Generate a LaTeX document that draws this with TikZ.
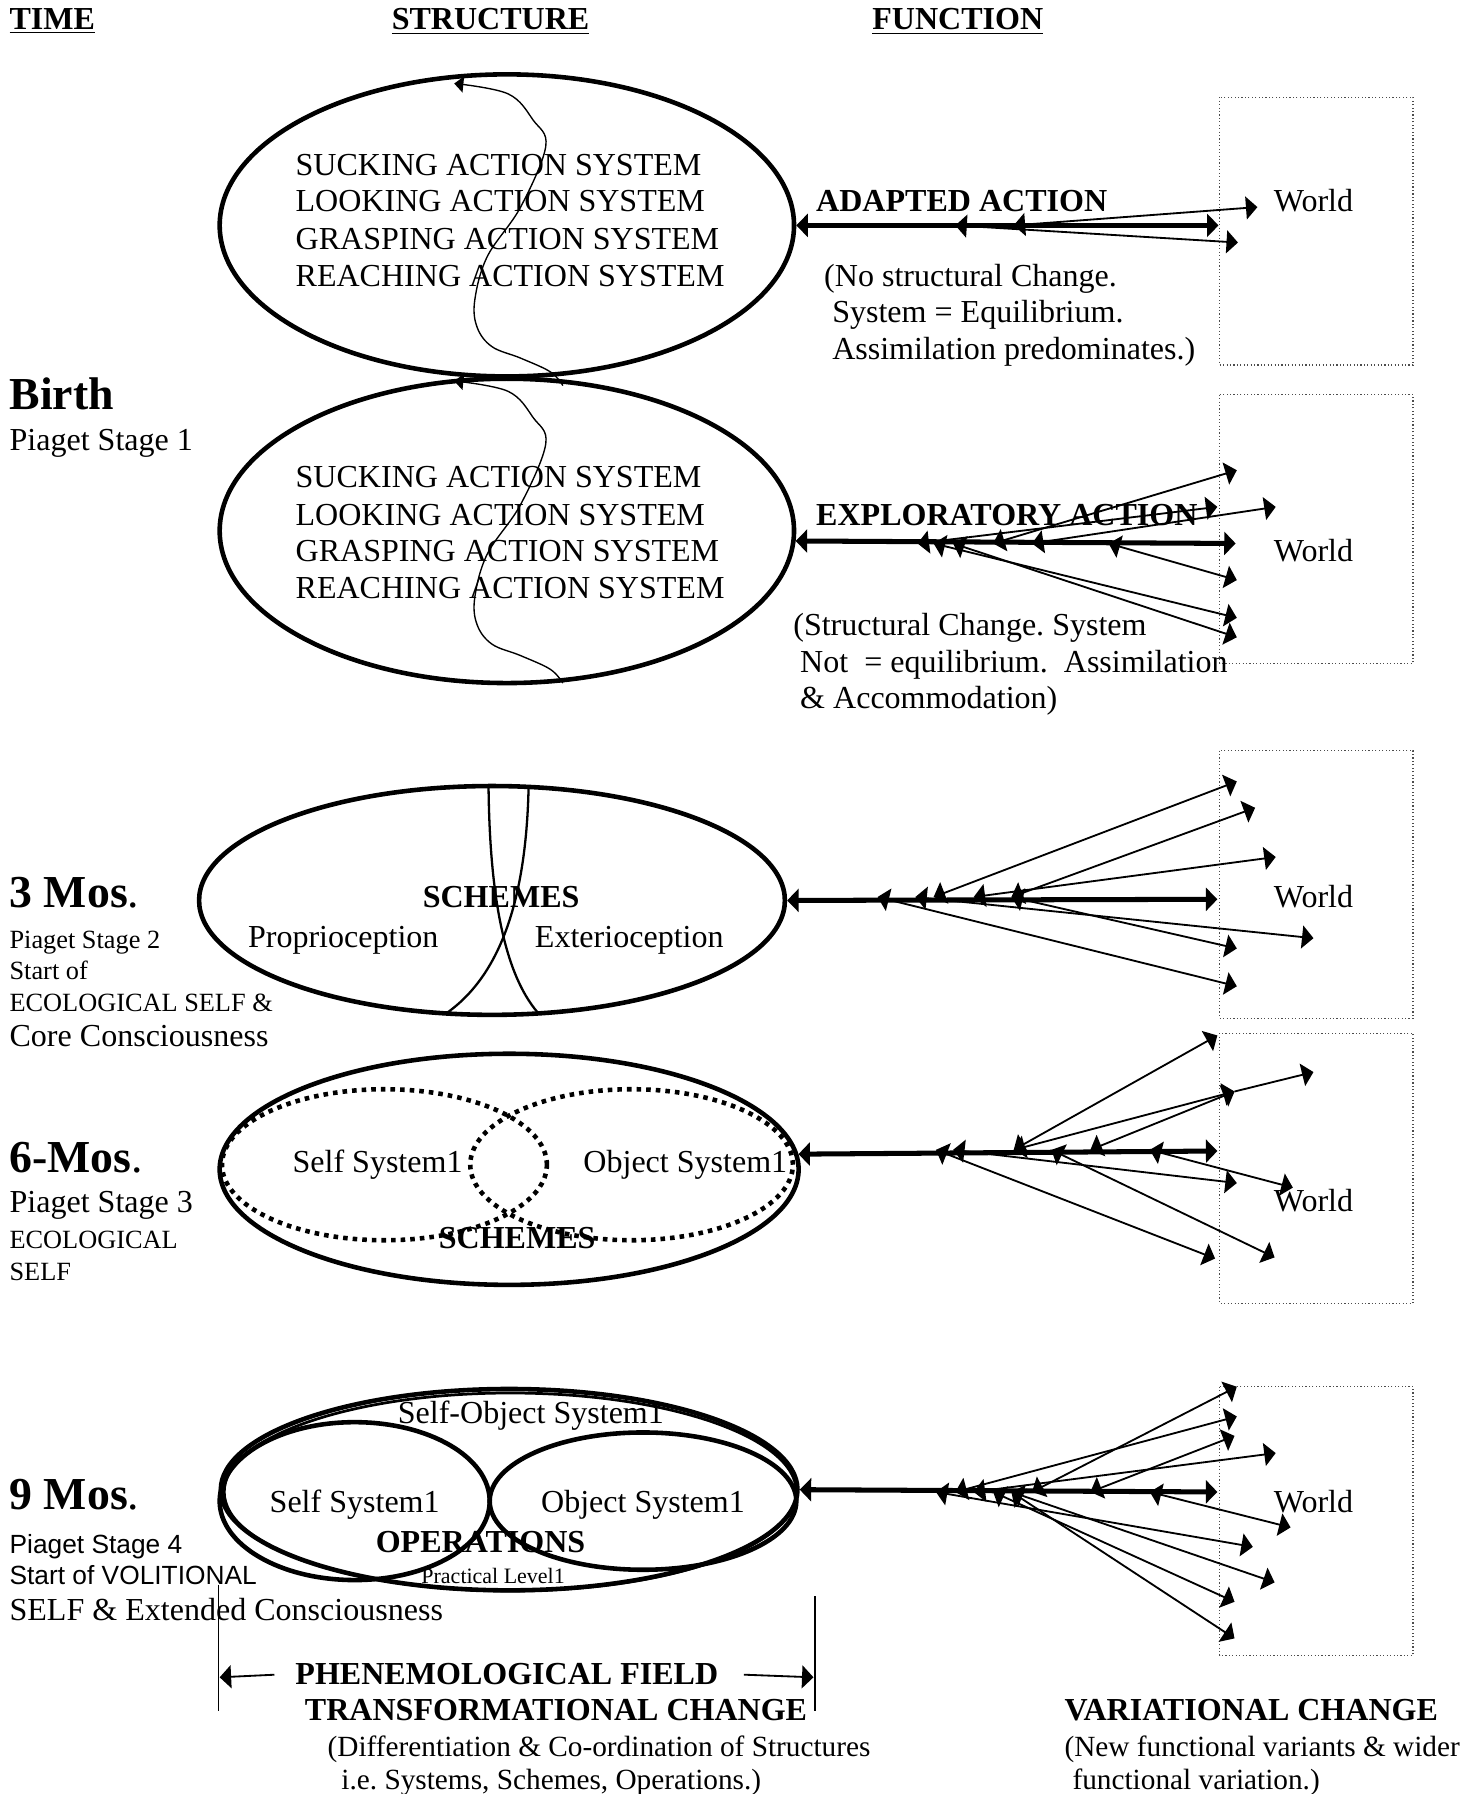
\documentclass[tikz,border=0pt]{standalone}
\usepackage{fontspec}
\setmainfont{Liberation Serif}
\setsansfont{Liberation Sans}
\usepackage{tikz}
\usetikzlibrary{shapes,arrows.meta,positioning}
\def\bodysize{\fontsize{14}{16}\selectfont}
\def\notesize{\fontsize{12.8}{15}\selectfont}
\def\smallsize{\fontsize{11.5}{13}\selectfont}
\def\agesize{\fontsize{20}{22}\selectfont}
\frenchspacing

\begin{document}
\begin{tikzpicture}[x=0.5pt,y=-0.5pt,>={Triangle[length=5pt,width=10pt]}]
    \tikzstyle{txt}=[anchor=base west,inner sep=0pt,font=\bodysize]
    \tikzstyle{ctxt}=[txt,anchor=base]
    \tikzstyle{small txt}=[txt,font=\smallsize]
    \tikzstyle{note txt}=[txt,font=\notesize]
    \tikzstyle{system}=[ellipse,draw,line width=2pt,inner sep=0pt]
    \tikzstyle{subsystem}=[system,dash pattern=on 2pt off 2.2pt]
    \tikzstyle{action}=[line width=2.2pt,<->]
    \tikzstyle{variant}=[line width=0.8pt,<->]
    \tikzstyle{world box}=[draw=black!70,densely dotted,line width=0.5pt]
    \tikzstyle{wave}=[line width=0.6pt,-{Triangle[length=4pt,width=7pt]}]

    \useasboundingbox (0,0) rectangle (1293,1568);

    % Column headings
    \node[txt] (time) at (8,26) {\textbf{\underline{TIME}}};
    \node[txt] (structure) at (342,26) {\textbf{\underline{STRUCTURE}}};
    \node[txt] (function) at (762,26) {\textbf{\underline{FUNCTION}}};

    % The world boxes
    \foreach \i / \top / \bot in {1/85/319,2/345/580,3/656/890,4/903/1139,5/1212/1447}
        \draw[world box] (1066,\top) rectangle (1235,\bot);
    \foreach \i / \y in {1/185,2/491,3/793,4/1059,5/1322}
        \node[ctxt] (world-\i) at (1148,\y) {World};

    % Birth: two action system ellipses
    \node[txt,font=\agesize] (birth) at (8,358) {\textbf{Birth}};
    \node[txt] (stage1) at (8,394) {Piaget Stage 1};

    \node[system,minimum width=251pt,minimum height=132pt] (e1) at (443,197) {};
    \node[system,minimum width=251pt,minimum height=133pt] (e2) at (443,464) {};

    \foreach \y / \word [count=\i] in {153/SUCKING,185/LOOKING,218/GRASPING,250/REACHING}
        \node[txt] (as1-\i) at (258,\y) {\word\ ACTION SYSTEM};
    \foreach \y / \word [count=\i] in {426/SUCKING,459/LOOKING,491/GRASPING,523/REACHING}
        \node[txt] (as2-\i) at (258,\y) {\word\ ACTION SYSTEM};

    \foreach \dy in {0,260}
        \draw[wave,shift={(0,\dy)}] plot[smooth,tension=0.6] coordinates
            {(492,337) (481,325) (455,313) (430,303) (417,286) (415,262) (426,224)
             (455,181) (477,128) (466,105) (444,82) (397,73)};

    \node[txt] (adapted) at (713,185) {\textbf{ADAPTED ACTION}};
    \node[txt] (n1-1) at (720,250) {(No structural Change.};
    \node[txt] (n1-2) at (727,282) {System = Equilibrium.};
    \node[txt] (n1-3) at (727,314) {Assimilation predominates.)};

    \node[txt] (explor) at (713,459) {\textbf{EXPLORATORY ACTION}};
    \node[txt] (n2-1) at (693,555) {(Structural Change. System};
    \node[txt] (n2-2) at (699,588) {Not \ = equilibrium. \ Assimilation};
    \node[txt] (n2-3) at (699,619) {\& Accommodation)};

    \coordinate (w1) at (1065,197);
    \draw[action] (e1.east) -- (w1);
    \foreach \sx / \ex / \ey [count=\i] in {886/1099/181,835/1082/212} {
        \coordinate (v1-s\i) at (\sx,197);
        \coordinate (v1-e\i) at (\ex,\ey);
        \draw[variant] (v1-s\i) -- (v1-e\i);
    }

    \coordinate (w2) at (1080,475);
    \draw[action] (e2.-2.5) -- (w2);
    \foreach \sx / \ex / \ey [count=\i] in {868/1081/411,902/1115/443,802/1064/443,
                                          969/1081/507,816/1081/540,833/1081/557} {
        \coordinate (v2-s\i) at (\sx,475);
        \coordinate (v2-e\i) at (\ex,\ey);
        \draw[variant] (v2-s\i) -- (v2-e\i);
    }

    % 3 months: schemes
    \node[txt,font=\agesize] (mos3) at (8,793) {\textbf{3 Mos}.};
    \node[small txt] (stage2) at (8,829) {Piaget Stage 2};
    \node[small txt] (start3) at (8,856) {Start of};
    \node[small txt] (eco3) at (8,884) {ECOLOGICAL SELF \&};
    \node[txt] (core) at (8,915) {Core Consciousness};

    \node[system,minimum width=256pt,minimum height=100pt] (e3) at (430,787) {};
    \draw[line width=1pt] (427,688) .. controls (428,780) and (440,850) .. (470,885);
    \draw[line width=1pt] (462,688) .. controls (460,780) and (440,850) .. (391,885);
    \node[ctxt,font=\bodysize\bfseries] (schemes3) at (438,793) {SCHEMES};
    \node[ctxt] (proprio) at (300,828) {Proprioception};
    \node[ctxt] (exterio) at (550,828) {Exterioception};

    \coordinate (w3) at (1064,786);
    \draw[action] (e3.east) -- (w3);
    \foreach \sx / \ex / \ey [count=\i] in {816/1081/683,884/1097/706,851/1115/749,
                                          800/1148/820,884/1081/829,767/1081/862} {
        \coordinate (v3-s\i) at (\sx,784);
        \coordinate (v3-e\i) at (\ex,\ey);
        \draw[variant] (v3-s\i) -- (v3-e\i);
    }

    % 6 months: self and object systems
    \node[txt,font=\agesize] (mos6) at (8,1025) {\textbf{6-Mos}.};
    \node[txt] (stage3) at (8,1060) {Piaget Stage 3};
    \node[small txt] (eco6) at (8,1091) {ECOLOGICAL};
    \node[small txt] (self6) at (8,1119) {SELF};

    \node[system,minimum width=253pt,minimum height=101pt] (e4) at (445,1022) {};
    \node[subsystem,minimum width=142pt,minimum height=66pt] (self4) at (336,1018) {};
    \node[subsystem,minimum width=141pt,minimum height=66pt] (obj4) at (552,1018) {};
    \node[ctxt] (selftxt4) at (330,1025) {Self System1};
    \node[ctxt] (objtxt4) at (599,1025) {Object System1};
    \node[ctxt,font=\bodysize\bfseries] (schemes4) at (452,1091) {SCHEMES};

    \coordinate (w4) at (1064,1006);
    \draw[action] (e4.3.8) -- (w4);
    \foreach \sx / \ex / \ey [count=\i] in {886/1064/905,886/1079/954,953/1079/954,
                                          833/1081/1034,1005/1130/1038,818/1062/1100,919/1114/1099} {
        \coordinate (v4-s\i) at (\sx,1005);
        \coordinate (v4-e\i) at (\ex,\ey);
        \draw[variant] (v4-s\i) -- (v4-e\i);
    }
    \coordinate (v4-x) at (1148,937);
    \draw[variant,->] (v4-e2) -- (v4-x);

    % 9 months: operations
    \node[txt,font=\agesize] (mos9) at (8,1319) {\textbf{9 Mos}.};
    \node[small txt,font=\sffamily\smallsize] (stage4) at (8,1358) {Piaget Stage 4};
    \node[small txt,font=\sffamily\smallsize] (start9) at (8,1385) {Start of VOLITIONAL};
    \node[txt] (ext) at (8,1416) {SELF \& Extended Consciousness};

    \node[system,minimum width=252pt,minimum height=88pt] (e5) at (445,1302) {};
    \node[system,line width=1.2pt,minimum width=250pt,minimum height=86.5pt] (e5b) at (446,1304) {};
    \node[system,minimum width=118pt,minimum height=69pt] (self5) at (310,1312) {};
    \node[system,minimum width=134pt,minimum height=60pt] (obj5) at (562,1312) {};
    \node[ctxt] (selfobj) at (464,1244) {Self-Object System1};
    \node[ctxt] (selftxt5) at (310,1322) {Self System1};
    \node[ctxt] (objtxt5) at (562,1322) {Object System1};
    \node[ctxt,font=\bodysize\bfseries] (oper) at (420,1357) {OPERATIONS};
    \node[ctxt,font=\fontsize{9.6}{11}\selectfont] (practical) at (431,1384) {Practical Level1};

    \coordinate (w5) at (1064,1304);
    \draw[action] (e5.east) -- (w5);
    \foreach \sx / \ex / \ey [count=\i] in {902/1081/1212,835/1081/1238,953/1079/1255,
                                          851/1115/1270,1005/1128/1335,818/1095/1352,
                                          884/1114/1383,868/1079/1400,884/1079/1432} {
        \coordinate (v5-s\i) at (\sx,1304);
        \coordinate (v5-e\i) at (\ex,\ey);
        \draw[variant] (v5-s\i) -- (v5-e\i);
    }

    % Annotate the kinds of change
    \draw[line width=0.8pt] (191,1385) -- (191,1495);
    \draw[line width=0.8pt] (712,1395) -- (712,1495);
    \node[ctxt,font=\bodysize\bfseries] (phen) at (443,1472) {PHENEMOLOGICAL FIELD};
    \coordinate (fl) at (192,1466);
    \coordinate (fr) at (711,1466);
    \draw[line width=0.8pt,->,shorten <=9pt] (phen.west) -- (fl);
    \draw[line width=0.8pt,->,shorten <=11pt] (phen.east) -- (fr);
    \node[ctxt,font=\bodysize\bfseries] (trans) at (486,1504) {TRANSFORMATIONAL CHANGE};
    \node[note txt] (diff) at (286,1535) {(Differentiation \& Co-ordination of Structures};
    \node[note txt] (ie) at (298,1564) {i.e. Systems, Schemes, Operations.)};
    \node[txt] (var) at (930,1504) {\textbf{VARIATIONAL CHANGE}};
    \node[note txt] (newf) at (930,1535) {(New functional variants \& wider};
    \node[note txt] (funv) at (937,1564) {functional variation.)};

\end{tikzpicture}
\end{document}
